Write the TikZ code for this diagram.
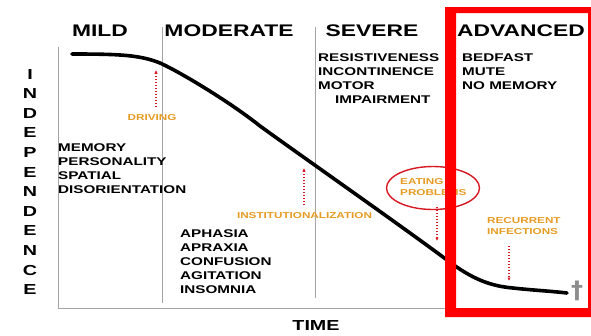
\documentclass[tikz,border=0pt]{standalone}
\usepackage{fontspec}
\setmainfont{Liberation Sans}[FakeStretch=1.36]
\newfontfamily\crossfont{DejaVu Sans}
\usetikzlibrary{arrows.meta,shapes.geometric}
\definecolor{axisgray}{RGB}{165,165,165}
\definecolor{crossgray}{RGB}{140,140,140}
\definecolor{lblorange}{RGB}{230,155,35}
\definecolor{arrred}{RGB}{215,25,35}
\definecolor{boxred}{RGB}{255,0,0}
\tikzset{
  title/.style={font=\bfseries\fontsize{16.8}{20}\selectfont, anchor=base, inner sep=0},
  body/.style={font=\bfseries\fontsize{11.2}{14.2}\selectfont, anchor=north west, align=left, inner sep=0},
  event/.style={font=\bfseries\fontsize{8.6}{11}\selectfont, text=lblorange, inner sep=0},
  divider/.style={draw=axisgray, line width=0.9pt},
  dotarrow/.style={draw=arrred, line width=1.2pt, dash pattern=on 1.4pt off 1.6pt, -{Latex[length=3.5pt,width=3.5pt]}},
}
\begin{document}
\begin{tikzpicture}[x=1pt, y=-1pt]
\useasboundingbox (0,0) rectangle (591,335);
% axes and dividers
\coordinate (axtop) at (58,47);
\coordinate (axorig) at (58,308);
\coordinate (axend) at (570,308);
\draw[divider] (axtop) -- (axorig) -- (axend);
\coordinate (d1t) at (162,27);
\coordinate (d1b) at (162,303);
\coordinate (d2t) at (315,27);
\coordinate (d2b) at (315,298);
\draw[divider] (d1t) -- (d1b);
\draw[divider] (d2t) -- (d2b);
% stage titles
\node[title] (mild) at (100,36) {MILD};
\node[title] (moderate) at (229,36) {MODERATE};
\node[title] (severe) at (372,36) {SEVERE};
\node[title] (advanced) at (521,36) {ADVANCED};
% symptom lists
\node[body] (mildtxt) at (58,143) {MEMORY\\PERSONALITY\\SPATIAL\\DISORIENTATION};
\node[body] (modtxt) at (180,229) {APHASIA\\APRAXIA\\CONFUSION\\AGITATION\\INSOMNIA};
\node[body] (sevtxt) at (318,53) {RESISTIVENESS\\INCONTINENCE\\MOTOR\\\hspace*{17pt}IMPAIRMENT};
\node[body] (advtxt) at (462,53) {BEDFAST\\MUTE\\NO MEMORY};
% axis labels
\node[font=\bfseries\fontsize{14.5}{19.6}\selectfont, anchor=north, align=center, inner sep=0] (indep) at (30,69)
  {I\\N\\D\\E\\P\\E\\N\\D\\E\\N\\C\\E};
\node[font=\bfseries\fontsize{14.5}{18}\selectfont, anchor=base, inner sep=0] (time) at (316,330) {TIME};
% decline curve
\draw[line width=3.6pt, line cap=round, line join=round]
  (72,54) .. controls (120,54) and (140,55) .. (160,63)
  .. controls (180,72) and (230,102) .. (260,126)
  .. controls (300,155) and (400,225) .. (447,260)
  .. controls (472,279) and (490,286) .. (513,288)
  .. controls (530,290) and (550,291) .. (567,293);
% events
\node[event] (driving) at (152,118) {DRIVING};
\coordinate (drivtop) at (156,70);
\draw[dotarrow] (156,107) -- (drivtop);
\node[event] (inst) at (304.5,216) {INSTITUTIONALIZATION};
\coordinate (insttop) at (304,168);
\draw[dotarrow] (304,205) -- (insttop);
\node[draw=arrred, line width=1.4pt, ellipse, minimum width=93pt, minimum height=43pt, inner sep=0] (eatell) at (433,188) {};
\node[event, anchor=north west, align=left] (eating) at (400,178) {EATING\\PROBLEMS};
\coordinate (eatbot) at (437,241);
\draw[dotarrow] (437,207) -- (eatbot);
\node[event, anchor=north west, align=left] (recur) at (487,217) {RECURRENT\\INFECTIONS};
\coordinate (recbot) at (509,281);
\draw[dotarrow] (509,246) -- (recbot);
% dagger
\node[font=\crossfont\bfseries\fontsize{24}{24}\selectfont, text=crossgray, inner sep=0] (dagger) at (577,291) {†};
% red highlight box
\fill[boxred, even odd rule] (445,7) rectangle (591,317) (456,13) rectangle (588,308);
\end{tikzpicture}
\end{document}
